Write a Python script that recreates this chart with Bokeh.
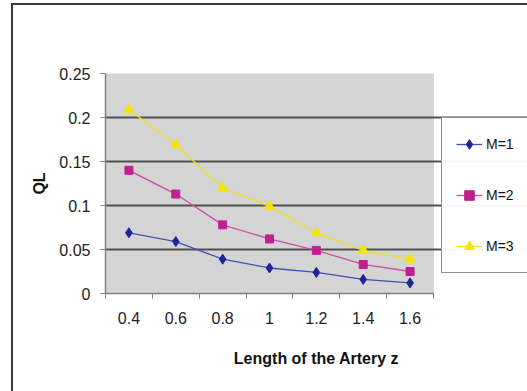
from bokeh.plotting import figure
from bokeh.models import FixedTicker, Legend, LegendItem, Range1d, BoxAnnotation
from bokeh.embed import file_html
from bokeh.resources import INLINE

z = [0.4, 0.6, 0.8, 1.0, 1.2, 1.4, 1.6]
z_labels = ["0.4", "0.6", "0.8", "1", "1.2", "1.4", "1.6"]
m1 = [0.069, 0.059, 0.039, 0.029, 0.024, 0.016, 0.012]
m2 = [0.140, 0.113, 0.078, 0.062, 0.049, 0.033, 0.025]
m3 = [0.209, 0.169, 0.120, 0.099, 0.069, 0.049, 0.039]
y_ticks = [0, 0.05, 0.1, 0.15, 0.2, 0.25]
y_labels = ["0", "0.05", "0.1", "0.15", "0.2", "0.25"]

FONT = "Liberation Sans"

FRAME_W, FRAME_H = 422, 220
BORDER_L, BORDER_T, BORDER_B = 92, 68, 98
PLOT_W = 328  # width of the grey plot area in px

half = (z[1] - z[0]) / 2
x0, x1 = z[0] - half, z[-1] + half
x_end = x0 + (x1 - x0) * FRAME_W / PLOT_W

p = figure(frame_width=FRAME_W, frame_height=FRAME_H, output_backend="svg",
           toolbar_location=None,
           x_range=Range1d(x0, x_end), y_range=Range1d(0, 0.25),
           min_border_left=BORDER_L, min_border_top=BORDER_T, min_border_right=0,
           min_border_bottom=BORDER_B)
p.margin = (3, 0, 0, 11)
p.styles = {"border-left": "2px solid #3a3a3a", "border-top": "2px solid #3a3a3a"}

p.background_fill_color = "white"
p.border_fill_color = "white"
p.outline_line_color = None

area = BoxAnnotation(left=x0, right=x1, fill_color="#d4d4d4", fill_alpha=1,
                     line_color="#a8a8a8", line_width=1, level="image")
p.add_layout(area)

# x axis
bounds = [x0] + [v + half for v in z]
p.xaxis.ticker = FixedTicker(ticks=z, minor_ticks=bounds)
p.xaxis.bounds = (x0, x1)
p.xaxis.major_label_overrides = {v: s for v, s in zip(z, z_labels)}
p.xaxis.major_tick_out = 0
p.xaxis.major_tick_in = 0
p.xaxis.minor_tick_out = 5
p.xaxis.minor_tick_in = 0
p.xaxis.minor_tick_line_color = "#808080"
p.xaxis.major_label_standoff = 13
p.xaxis.axis_label = "Length of the Artery z"
p.xaxis.axis_label_standoff = 23

# y axis
p.yaxis.ticker = FixedTicker(ticks=y_ticks, minor_ticks=[])
p.yaxis.major_label_overrides = {v: s for v, s in zip(y_ticks, y_labels)}
p.yaxis.major_tick_out = 5
p.yaxis.major_tick_in = 0
p.yaxis.major_tick_line_color = "#808080"
p.yaxis.major_label_standoff = 10
p.yaxis.axis_label = "QL"
p.yaxis.axis_label_standoff = 8

for ax in (p.xaxis, p.yaxis):
    ax.axis_line_color = "#808080"
    ax.axis_line_width = 1.5
    ax.major_label_text_font = FONT
    ax.major_label_text_font_size = "16px"
    ax.major_label_text_color = "#222222"
    ax.axis_label_text_font = FONT
    ax.axis_label_text_font_size = "16px"
    ax.axis_label_text_font_style = "bold"
    ax.axis_label_text_color = "#111111"

p.xgrid.visible = False
p.ygrid.ticker = FixedTicker(ticks=y_ticks)
p.ygrid.bounds = (x0, x1)
p.ygrid.grid_line_color = "#505050"
p.ygrid.grid_line_width = 2

l1 = p.line(z, m1, line_color="#4050b0", line_width=1.3)
s1 = p.scatter(z, m1, marker="diamond", size=10, fill_color="#22229a", line_color="#22229a")
l2 = p.line(z, m2, line_color="#c850a8", line_width=1.3)
s2 = p.scatter(z, m2, marker="square", size=8, fill_color="#c0208f", line_color="#c0208f")
l3 = p.line(z, m3, line_color="#f0e020", line_width=1.3)
s3 = p.scatter(z, m3, marker="triangle", size=10, fill_color="#f5e600", line_color="#f5e600")

legend = Legend(items=[
    LegendItem(label="M=1", renderers=[l1, s1]),
    LegendItem(label="M=2", renderers=[l2, s2]),
    LegendItem(label="M=3", renderers=[l3, s3]),
], location=(PLOT_W + 8, 20))
legend.border_line_color = "#222222"
legend.border_line_width = 1.2
legend.background_fill_color = "white"
legend.padding = 14
legend.spacing = 27
legend.glyph_height = 24
legend.glyph_width = 26
legend.label_height = 24
legend.label_width = 40
legend.label_standoff = 4
legend.label_text_font = FONT
legend.label_text_font_size = "14px"
legend.label_text_color = "#111111"
p.add_layout(legend, "center")

open("out.html", "w").write(file_html(p, INLINE))
